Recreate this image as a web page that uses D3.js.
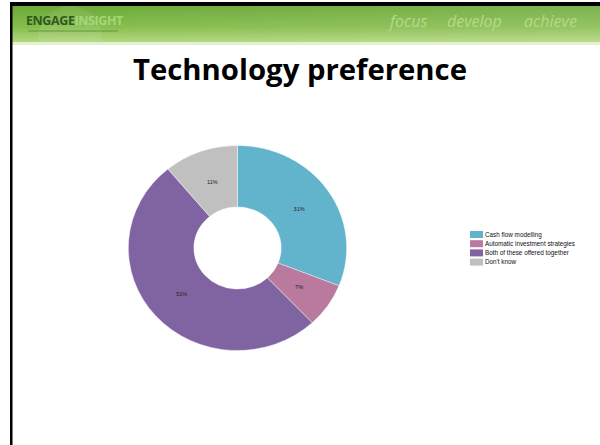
<!DOCTYPE html>
<html>
<head>
<meta charset="utf-8">
<title>Technology preference</title>
<script src="https://cdn.jsdelivr.net/npm/d3@7"></script>
<style>
  body { margin: 0; background: #fff; }
  svg { display: block; }
</style>
</head>
<body>
<div id="chart"></div>
<script>
// data
var categories = ["Cash flow modelling", "Automatic investment strategies", "Both of these offered together", "Don't know"];
var values = [31, 7, 51, 11];
var colors = ["#62b4cc", "#b97a9d", "#8064a2", "#c0c0c0"];

var w = 600, h = 445;

var svg = d3.select("#chart").append("svg")
  .attr("width", w)
  .attr("height", h);

// header band
var defs = svg.append("defs");
var grad = defs.append("linearGradient").attr("id", "hdr").attr("x1", 0).attr("y1", 0).attr("x2", 0).attr("y2", 1);
grad.append("stop").attr("offset", "0%").attr("stop-color", "#6aa838");
grad.append("stop").attr("offset", "60%").attr("stop-color", "#86bd4c");
grad.append("stop").attr("offset", "100%").attr("stop-color", "#b3d67f");
var gradH = defs.append("linearGradient").attr("id", "hdrH").attr("x1", 0).attr("y1", 0).attr("x2", 1).attr("y2", 0);
gradH.append("stop").attr("offset", "0%").attr("stop-color", "#ffffff").attr("stop-opacity", 0.0);
gradH.append("stop").attr("offset", "100%").attr("stop-color", "#ffffff").attr("stop-opacity", 0.12);

svg.append("rect").attr("x", 11).attr("y", 5).attr("width", w - 11).attr("height", 37).attr("fill", "url(#hdr)");
svg.append("rect").attr("x", 11).attr("y", 5).attr("width", w - 11).attr("height", 37).attr("fill", "url(#hdrH)");
svg.append("circle").attr("cx", 70).attr("cy", 38).attr("r", 32).attr("fill", "#ffffff").attr("opacity", 0.08);
svg.append("rect").attr("x", 11).attr("y", 42).attr("width", w - 11).attr("height", 3).attr("fill", "#e4f1cf");

// slide frame
svg.append("rect").attr("x", 10).attr("y", 2).attr("width", w - 10).attr("height", 4).attr("fill", "#000");
svg.append("rect").attr("x", 10).attr("y", 2).attr("width", 2.5).attr("height", h - 2).attr("fill", "#000");

var logo = svg.append("text")
  .attr("x", 26).attr("y", 25)
  .style("font-family", "'Open Sans', sans-serif")
  .style("font-weight", "bold")
  .style("font-size", "12.5px")
  .style("letter-spacing", "-0.4px");
logo.append("tspan").attr("fill", "#2f5a1c").text("ENGAGE");
logo.append("tspan").attr("fill", "#a3d877").text("INSIGHT");
svg.append("rect").attr("x", 28).attr("y", 30).attr("width", 90).attr("height", 2).attr("fill", "#5e9a3a").attr("opacity", 0.5);

var slogan = svg.append("text")
  .attr("y", 27)
  .attr("fill", "#b4da8a")
  .style("font-family", "'Open Sans', sans-serif")
  .style("font-style", "italic")
  .style("font-size", "16px");
slogan.append("tspan").attr("x", 390).text("focus");
slogan.append("tspan").attr("x", 447).text("develop");
slogan.append("tspan").attr("x", 524).text("achieve");

// title
svg.append("text")
  .attr("x", 300).attr("y", 80)
  .attr("text-anchor", "middle")
  .attr("fill", "#000")
  .style("font-family", "'Open Sans', sans-serif")
  .style("font-weight", "bold")
  .style("font-size", "29.3px")
  .text("Technology preference");

// donut
var cx = 237.5, cy = 248;
var outerR = 102.5, innerR = 41;

var pie = d3.pie().sort(null).value(function(d) { return d; });
var arc = d3.arc().innerRadius(innerR).outerRadius(outerR);
var labelArc = d3.arc().innerRadius(innerR + (outerR - innerR) * 0.47).outerRadius(innerR + (outerR - innerR) * 0.47);

var g = svg.append("g").attr("transform", "translate(" + cx + "," + cy + ") scale(1.065,1)");

g.selectAll("path.slice")
  .data(pie(values))
  .enter()
  .append("path")
  .attr("class", "slice")
  .attr("d", arc)
  .attr("fill", function(d, i) { return colors[i]; })
  .attr("stroke", "#ffffff")
  .attr("stroke-width", 0.4);

g.selectAll("text.pct")
  .data(pie(values))
  .enter()
  .append("text")
  .attr("class", "pct")
  .attr("transform", function(d) {
    var c = labelArc.centroid(d);
    return "translate(" + c[0] + "," + c[1] + ") scale(" + (1 / 1.065) + ",1)";
  })
  .attr("text-anchor", "middle")
  .attr("dy", "0.35em")
  .attr("fill", "#222")
  .style("font-family", "'Liberation Sans', Arial, sans-serif")
  .style("font-size", "5.5px")
  .text(function(d) { return d.data + "%"; });

// legend
var legend = svg.append("g").attr("transform", "translate(470,231)");
var rows = legend.selectAll("g.row")
  .data(categories)
  .enter()
  .append("g")
  .attr("class", "row")
  .attr("transform", function(d, i) { return "translate(0," + (i * 9.2) + ")"; });

rows.append("rect")
  .attr("width", 13)
  .attr("height", 7)
  .attr("fill", function(d, i) { return colors[i]; });

rows.append("text")
  .attr("x", 15)
  .attr("y", 3.6)
  .attr("dy", "0.35em")
  .attr("fill", "#111")
  .style("font-family", "'Liberation Sans', Arial, sans-serif")
  .style("font-size", "6.35px")
  .text(function(d) { return d; });
</script>
</body>
</html>
